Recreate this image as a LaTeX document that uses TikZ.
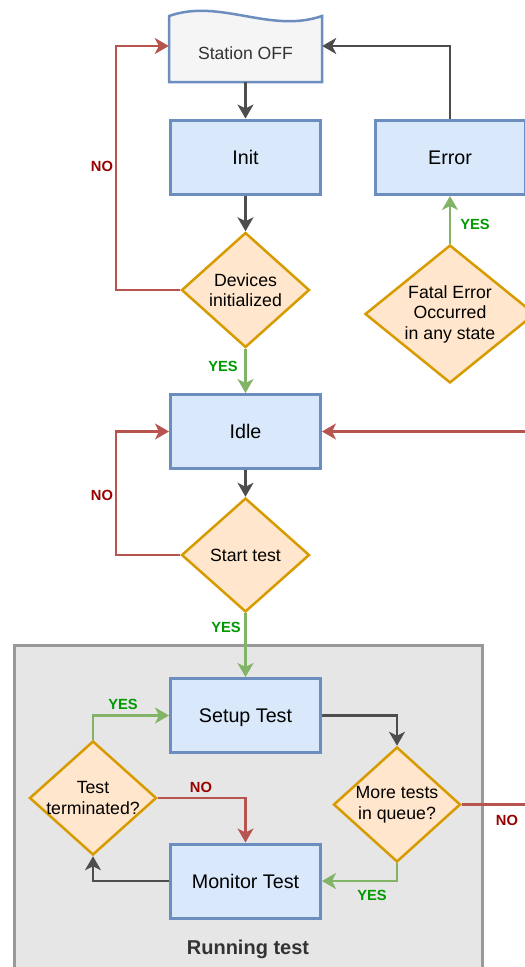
\documentclass[tikz,border=0pt]{standalone}
\usepackage{fontspec}
\setmainfont{Liberation Sans}
\usetikzlibrary{shapes.geometric,arrows.meta,calc}
\definecolor{boxfill}{HTML}{DAE8FC}
\definecolor{boxline}{HTML}{6C8EBF}
\definecolor{decfill}{HTML}{FFE6CC}
\definecolor{decline}{HTML}{D79B00}
\definecolor{offfill}{HTML}{F5F5F5}
\definecolor{offtext}{HTML}{333333}
\definecolor{grpfill}{HTML}{E6E6E6}
\definecolor{grpline}{HTML}{999999}
\definecolor{darkln}{HTML}{4D4D4D}
\definecolor{redln}{HTML}{B85450}
\definecolor{greenln}{HTML}{82B366}
\definecolor{yestxt}{HTML}{009900}
\definecolor{notxt}{HTML}{990000}
\begin{document}
\begin{tikzpicture}[x=1pt,y=-1pt,
  proc/.style={draw=boxline, fill=boxfill, line width=3pt, minimum width=150pt, minimum height=74pt, inner sep=0pt, text height=14pt, text depth=0pt, font=\fontsize{19.7}{23}\selectfont},
  dec/.style={diamond, draw=decline, fill=decfill, line width=2.5pt, inner sep=0pt},
  dtext/.style={font=\fontsize{17.7}{20.5}\selectfont, align=center, inner sep=0pt},
  flow/.style={line width=2.2pt, -{Stealth[length=14pt,width=16pt,inset=4pt]}},
  dk/.style={flow, draw=darkln, color=darkln},
  rd/.style={flow, draw=redln, color=redln},
  gn/.style={flow, draw=greenln, color=greenln},
  yes/.style={font=\fontsize{14.7}{16}\selectfont\bfseries, text=yestxt, inner sep=0pt},
  no/.style={font=\fontsize{14.7}{16}\selectfont\bfseries, text=notxt, inner sep=0pt}]
\useasboundingbox (0,0) rectangle (525,967);
\clip (0,0) rectangle (525,967);

% container
\draw[fill=grpfill, draw=grpline, line width=3pt] (14,645) rectangle (482,1000);
\node[font=\fontsize{20}{23}\selectfont\bfseries, text=offtext, inner sep=0pt] (grplabel) at (248,949) {Running test};

% Station OFF (document shape with wavy top)
\draw[fill=offfill, draw=boxline, line width=2.5pt] (169,82) -- (169,16) .. controls (220,-2) and (270,34) .. (322,16) -- (322,82) -- cycle;
\node[minimum width=153pt, minimum height=72pt, inner sep=0pt] (off) at (245.5,46) {};
\node[font=\fontsize{17.6}{20}\selectfont, text=offtext, inner sep=0pt] (offlabel) at (245.5,53) {Station OFF};

% process boxes
\node[proc] (init) at (245.5,157) {Init};
\node[proc] (err) at (450,157.5) {Error};
\node[proc] (idle) at (245.5,431.5) {Idle};
\node[proc] (setup) at (245.5,715.5) {Setup Test};
\node[proc] (mon) at (245.5,881) {Monitor Test};

% decisions
\node[dec, minimum width=128pt, minimum height=115pt, label={[dtext]center:Devices\\initialized}] (dev) at (245.5,290) {};
\node[dec, minimum width=170pt, minimum height=138pt, label={[dtext]center:Fatal Error\\Occurred\\in any state}] (fatal) at (450,314) {};
\node[dec, minimum width=128pt, minimum height=114pt, label={[dtext]center:Start test}] (start) at (245.5,555) {};
\node[dec, minimum width=127pt, minimum height=114pt, label={[dtext]center:Test\\terminated?}] (tt) at (93,798) {};
\node[dec, minimum width=127pt, minimum height=115pt, label={[dtext]center:More tests\\in queue?}] (more) at (397,804.5) {};

% connectors
\draw[dk] (off.south) -- (init.north);
\draw[dk] (init.south) -- (dev.north);
\draw[rd] (dev.west) -- ++(-64,0) |- (off.west);
\draw[gn] (dev.south) -- (idle.north);
\draw[dk] (err.north) |- (off.east);
\draw[gn] (fatal.north) -- (err.south);
\draw[dk] (idle.south) -- (start.north);
\draw[rd] (start.west) -- ++(-64,0) |- (idle.west);
\draw[gn] (start.south) -- (setup.north);
\draw[rd] (more.east) -- ++(90,0) |- (idle.east);
\draw[dk] (setup.east) -| (more.north);
\draw[gn] (more.south) |- (mon.east);
\draw[dk] (mon.west) -| (tt.south);
\draw[gn] (tt.north) |- (setup.west);
\draw[rd] (tt.east) -| (mon.north);

% edge labels
\node[no] (l1) at (102,166) {NO};
\node[yes] (l2) at (223,366) {YES};
\node[yes] (l3) at (475,224) {YES};
\node[no] (l4) at (102,495) {NO};
\node[yes] (l5) at (226,627) {YES};
\node[yes] (l6) at (123,704) {YES};
\node[no] (l7) at (201,787) {NO};
\node[no] (l8) at (507,820) {NO};
\node[yes] (l9) at (372,895) {YES};
\end{tikzpicture}
\end{document}
